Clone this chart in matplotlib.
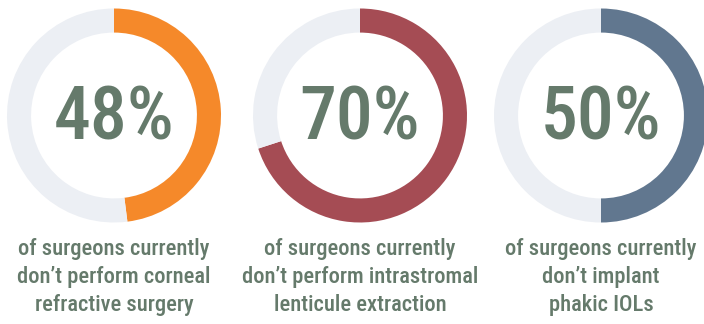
import matplotlib
matplotlib.use("Agg")
import matplotlib.pyplot as plt

# data
values = [48, 70, 50]
labels = ["48%", "70%", "50%"]
captions = [
    "of surgeons currently\ndon\u2019t perform corneal\nrefractive surgery",
    "of surgeons currently\ndon\u2019t perform intrastromal\nlenticule extraction",
    "of surgeons currently\ndon\u2019t implant\nphakic IOLs",
]
colors = ["#F5892A", "#A54C54", "#61778F"]
ring_grey = "#ECEFF4"
text_col = "#657A6B"

W, H = 704, 324
fig = plt.figure(figsize=(W / 100, H / 100), dpi=100)
fig.patch.set_facecolor("white")

font = ["Roboto Condensed", "DejaVu Sans"]

centers_x = [114, 360, 601]
cy = 115.5
r = 107

for i, v in enumerate(values):
    ax = fig.add_axes([(centers_x[i] - r) / W, (H - cy - r) / H, 2 * r / W, 2 * r / H])
    ax.pie([v, 100 - v], colors=[colors[i], ring_grey], startangle=90,
           counterclock=False, radius=1,
           wedgeprops=dict(width=0.225, linewidth=0))
    ax.set_xlim(-1, 1)
    ax.set_ylim(-1, 1)
    ax.set_aspect("equal")
    ax.axis("off")
    fig.text(centers_x[i] / W, 1 - 119 / H, labels[i], ha="center", va="center",
             fontsize=53, color=text_col, family=font, weight="medium")
    fig.text(centers_x[i] / W, 1 - 277 / H, captions[i], ha="center", va="center",
             fontsize=16.2, color=text_col, family=font, weight="medium",
             linespacing=1.33)

fig.savefig("out.png", dpi=100)
